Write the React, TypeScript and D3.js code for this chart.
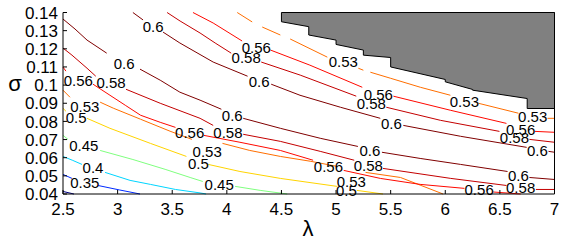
import React from "react";
import * as d3 from "d3";

// axis ticks
const xTicks = [2.5, 3, 3.5, 4, 4.5, 5, 5.5, 6, 6.5, 7];
const yTicks = [0.04, 0.05, 0.06, 0.07, 0.08, 0.09, 0.1, 0.11, 0.12, 0.13, 0.14];

// contour levels (jet colour map runs over them)
const levels = [0.3, 0.35, 0.4, 0.45, 0.5, 0.53, 0.56, 0.58, 0.6];

type P = [number, number] | null; // [lambda, sigma], null = break in line (label gap)

const c030: P[] = [[2.5, 0.0414], [2.6, 0.04]];
const c035: P[] = [[2.5, 0.0508], [2.582, 0.0486], null, [2.82, 0.0447], [3.02, 0.0422], [3.205, 0.04]];
const c040: P[] = [[2.5, 0.0607], [2.59, 0.0585], [2.674, 0.0563], null, [2.885, 0.0519], [3.114, 0.0475], [3.3, 0.0453], [3.53, 0.0425], [3.755, 0.0406], [3.81, 0.04]];
const c045: P[] = [[2.5, 0.0723], [2.546, 0.0701], null, [2.84, 0.064], [3.14, 0.059], [3.435, 0.0536], [3.664, 0.0491], [3.78, 0.0469], null, [4.076, 0.0442], [4.305, 0.042], [4.553, 0.04]];
const c050: P[] = [[2.5, 0.0872], [2.527, 0.0856], null, [2.72, 0.0817], [2.93, 0.0762], [3.3, 0.0679], [3.63, 0.0607], null, [3.83, 0.0563], [4.12, 0.0524], [4.49, 0.0486], [5.01, 0.0442], null, [5.19, 0.042], [5.43, 0.04]];
const c053lo: P[] = [[2.5, 0.0972], [2.564, 0.0933], null, [2.84, 0.0906], [2.96, 0.0873], [3.21, 0.0812], [3.48, 0.0746], [3.68, 0.0701], null, [3.96, 0.0679], [4.21, 0.064], [4.49, 0.0607], [4.77, 0.058], [5.01, 0.0552], null, [5.27, 0.0519], [5.59, 0.0491], [5.98, 0.04]];
const c056lo: P[] = [[2.5, 0.1099], [2.527, 0.1077], null, [2.775, 0.1005], [2.93, 0.0944], [3.07, 0.0889], [3.21, 0.0834], [3.39, 0.0795], [3.53, 0.0767], null, [3.79, 0.0723], [4.12, 0.0685], [4.49, 0.064], [4.79, 0.0586], null, [5.07, 0.053], [5.405, 0.0486], [5.77, 0.0453], [6.175, 0.0431], null, [6.44, 0.0411], [6.69, 0.04]];
const c058lo: P[] = [[2.5, 0.1204], [2.582, 0.1165], [2.72, 0.1093], [2.8, 0.1049], null, [3.077, 0.0977], [3.39, 0.09], [3.755, 0.0817], [3.875, 0.0778], null, [4.15, 0.0729], [4.49, 0.069], [4.855, 0.0635], [5.167, 0.0586], null, [5.43, 0.0541], [6.05, 0.0486], [6.56, 0.0447], null, [6.83, 0.0425], [7.0, 0.0425]];
const c060lo: P[] = [[2.5, 0.1364], [2.61, 0.1309], [2.72, 0.1248], [2.9, 0.1176], null, [3.205, 0.1088], [3.39, 0.1027], [3.57, 0.0961], [3.755, 0.0917], [3.95, 0.0867], null, [4.15, 0.0817], [4.49, 0.0762], [4.855, 0.0707], [5.2, 0.0662], null, [5.42, 0.063], [5.77, 0.0596], [6.14, 0.0563], [6.57, 0.0524], null, [6.77, 0.0491], [7.0, 0.048]];
const c060hi: P[] = [[3.14, 0.14], [3.233, 0.1359], null, [3.416, 0.1292], [3.57, 0.1232], [3.875, 0.1127], [4.19, 0.1049], null, [4.406, 0.1005], [4.67, 0.0944], [5.04, 0.0878], [5.405, 0.0817], null, [5.616, 0.0778], [6.14, 0.0718], [6.745, 0.0657], null, [6.945, 0.0635], [7.0, 0.063]];
const c058hi: P[] = [[3.453, 0.14], [3.572, 0.1353], [3.755, 0.1287], [3.893, 0.1232], [4.04, 0.1176], null, [4.315, 0.1127], [4.672, 0.1055], [5.185, 0.0939], null, [5.46, 0.0878], [5.955, 0.0806], [6.496, 0.0745], null, [6.77, 0.0701], [7.0, 0.0685]];
const c056hi: P[] = [[3.69, 0.14], [3.875, 0.1342], [4.14, 0.1243], null, [4.4, 0.1193], [4.76, 0.111], [5.24, 0.0988], null, [5.525, 0.0939], [6.05, 0.0861], [6.56, 0.0789], null, [6.82, 0.0745], [7.0, 0.074]];
const c053hi: P[] = [[4.095, 0.14], [4.232, 0.1348], null, [4.324, 0.132], [4.49, 0.1276], null, [4.58, 0.1254], [4.92, 0.1154], null, [5.204, 0.1093], [5.25, 0.1082], null, [5.314, 0.1071], [5.497, 0.1038], [5.772, 0.0988], [6.047, 0.0944], null, [6.303, 0.09], [6.67, 0.0845], null, [6.936, 0.0817], [7.0, 0.0817]];

const contourLines = [
  { level: 0.3, pts: c030 },
  { level: 0.35, pts: c035 },
  { level: 0.4, pts: c040 },
  { level: 0.45, pts: c045 },
  { level: 0.5, pts: c050 },
  { level: 0.53, pts: c053lo },
  { level: 0.56, pts: c056lo },
  { level: 0.58, pts: c058lo },
  { level: 0.6, pts: c060lo },
  { level: 0.6, pts: c060hi },
  { level: 0.58, pts: c058hi },
  { level: 0.56, pts: c056hi },
  { level: 0.53, pts: c053hi },
];

// inline contour labels
const labelText = ["0.35", "0.4", "0.45", "0.45", "0.5", "0.5", "0.5", "0.53", "0.53", "0.53",
  "0.56", "0.56", "0.56", "0.56", "0.58", "0.58", "0.58", "0.58", "0.6", "0.6", "0.6", "0.6",
  "0.6", "0.6", "0.6", "0.6", "0.58", "0.58", "0.58", "0.56", "0.56", "0.56", "0.53", "0.53", "0.53"];
const labelLam = [2.7, 2.775, 2.69, 3.93, 2.62, 3.74, 5.094, 2.7, 3.82, 5.14,
  2.64, 3.66, 4.93, 6.31, 2.94, 4.01, 5.295, 6.69, 3.06, 4.05, 5.31, 6.67,
  3.325, 4.296, 5.506, 6.844, 4.177, 5.323, 6.633, 4.27, 5.387, 6.69, 5.066, 6.175, 6.8];
const labelSig = [0.0464, 0.0547, 0.0668, 0.0453, 0.0823, 0.0569, 0.042, 0.0883, 0.0635, 0.0469,
  0.1027, 0.074, 0.0552, 0.0425, 0.1016, 0.074, 0.0558, 0.0436, 0.1121, 0.0834, 0.064, 0.0502,
  0.132, 0.1021, 0.0789, 0.064, 0.1149, 0.09, 0.0712, 0.1209, 0.095, 0.0756, 0.1127, 0.0911, 0.0828];

// infeasible (grey) region outline
const grayLam = [4.5, 4.5, 4.75, 4.75, 5.0, 5.0, 5.25, 5.25, 5.5, 5.5, 6.0, 6.0, 6.25, 6.25, 6.75, 6.75, 7.0, 7.0];
const graySig = [0.14, 0.1349, 0.1322, 0.1276, 0.1248, 0.1224, 0.1193, 0.1165, 0.1152, 0.11, 0.1031, 0.1018, 0.0976, 0.0972, 0.0926, 0.0871, 0.0871, 0.14];

const W = 561;
const H = 247;
const font = "'Liberation Sans', Arial, Helvetica, sans-serif";

export default function App() {
  const x = d3.scaleLinear().domain([2.5, 7]).range([63, 554.5]);
  const y = d3.scaleLinear().domain([0.04, 0.14]).range([194, 12.5]);

  const jet = d3
    .scaleLinear<string>()
    .domain([0.3, 0.3375, 0.4125, 0.4875, 0.5625, 0.6])
    .range(["#000080", "#0000ff", "#00ffff", "#ffff00", "#ff0000", "#800000"]);

  const line = d3
    .line<P>()
    .defined((d) => d !== null)
    .x((d) => x((d as [number, number])[0]))
    .y((d) => y((d as [number, number])[1]));

  const grayPts = grayLam.map((l, i) => [x(l), y(graySig[i])].join(",")).join(" ");
  const fmt = (v: number) => `${+v.toFixed(2)}`;

  return (
    <svg width={W} height={H} style={{ position: "absolute", left: 0, top: 0, background: "#fff" }}>
      {contourLines.map((c, i) => (
        <path key={i} d={line(c.pts) || ""} fill="none" stroke={jet(c.level)} strokeWidth={1} />
      ))}

      <polygon points={grayPts} fill="#808080" stroke="#000" strokeWidth={1} />

      {labelText.map((t, i) => (
        <text key={i} x={x(labelLam[i])} y={y(labelSig[i])} dy="0.36em" textAnchor="middle"
          fontSize={15} fontFamily={font} fill="#000">{t}</text>
      ))}

      {/* axes */}
      <line x1={x(2.5)} x2={x(2.5)} y1={y(0.14)} y2={y(0.04)} stroke="#000" />
      <line x1={x(2.5)} x2={x(7)} y1={y(0.04)} y2={y(0.04)} stroke="#000" />
      <line x1={x(7)} x2={x(7)} y1={y(0.14)} y2={y(0.04)} stroke="#000" />

      {yTicks.map((t) => (
        <g key={t}>
          <line x1={x(2.5)} x2={x(2.5) + 4} y1={y(t)} y2={y(t)} stroke="#000" />
          <text x={58} y={y(t)} dy="0.36em" textAnchor="end" fontSize={17} fontFamily={font}>{fmt(t)}</text>
        </g>
      ))}
      {xTicks.map((t) => (
        <g key={t}>
          <line x1={x(t)} x2={x(t)} y1={y(0.04)} y2={y(0.04) - 4} stroke="#000" />
          <text x={x(t)} y={215} textAnchor="middle" fontSize={17} fontFamily={font}>{fmt(t)}</text>
        </g>
      ))}

      <text x={308} y={236} textAnchor="middle" fontSize={22} fontFamily={font}>λ</text>
      <text x={15} y={91} textAnchor="middle" fontSize={22} fontFamily={font}>σ</text>
    </svg>
  );
}
